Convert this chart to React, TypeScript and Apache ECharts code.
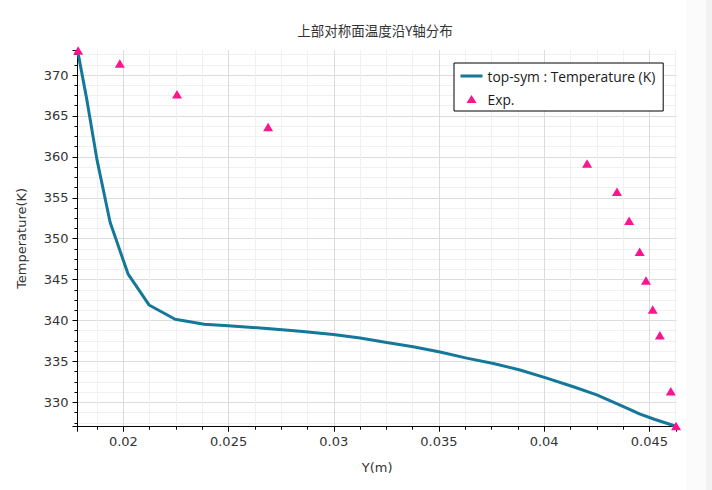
import React, { useEffect, useRef } from "react";
import * as echarts from "echarts";

const chartTitle = "上部对称面温度沿Y轴分布";
const xName = "Y(m)";
const yName = "Temperature(K)";
const lineName = "top-sym : Temperature (K)";
const expName = "Exp.";

const xMin = 0.01782;
const xMax = 0.0463;
const xStep = 0.005;
const yMin = 327.02;
const yMax = 373.06;
const yStep = 5;

const lineX = [
  0.01782, 0.01827, 0.01875, 0.01937, 0.02022, 0.02122, 0.02246, 0.02384,
  0.02498, 0.02697, 0.0284, 0.02998, 0.03125, 0.03252, 0.03377, 0.03505,
  0.03632, 0.03759, 0.03885, 0.04001, 0.04139, 0.0425, 0.04393, 0.04456,
  0.04527, 0.0463,
];
const lineT = [
  373.05, 366.9, 359.6, 352.0, 345.7, 341.9, 340.15, 339.55, 339.35, 339.0,
  338.68, 338.3, 337.85, 337.3, 336.8, 336.15, 335.4, 334.75, 333.95, 333.05,
  331.9, 330.9, 329.3, 328.55, 327.9, 327.05,
];

const expX = [
  0.01785, 0.01983, 0.02255, 0.02688, 0.04204, 0.04346, 0.04404, 0.04454,
  0.04484, 0.04516, 0.0455, 0.04602, 0.04627,
];
const expT = [
  373.0, 371.4, 367.65, 363.65, 359.2, 355.75, 352.2, 348.4, 344.9, 341.35,
  338.2, 331.35, 327.1,
];

const lineColor = "#14789a";
const expColor = "#ff1490";
const textColor = "#333333";
const axisFont = "DejaVu Sans";

function stepFormatter(step: number) {
  return (v: number) => {
    const r = v / step;
    return Math.abs(r - Math.round(r)) < 1e-6 ? String(+v.toFixed(4)) : "";
  };
}

function axisCommon(step: number) {
  return {
    type: "value" as const,
    minInterval: step,
    maxInterval: step,
    splitNumber: 5,
    axisLine: { show: true, onZero: false, lineStyle: { color: "#000", width: 1 } },
    axisTick: { show: true, length: 5, lineStyle: { color: "#000", width: 1 } },
    minorTick: { show: true, splitNumber: 4, length: 3, lineStyle: { color: "#000", width: 1 } },
    splitLine: {
      show: true,
      showMinLine: false,
      showMaxLine: false,
      lineStyle: { color: "#dcdcdc", width: 1 },
    },
    minorSplitLine: { show: true, lineStyle: { color: "#f0f0f0", width: 1 } },
    axisLabel: {
      formatter: stepFormatter(step),
      color: textColor,
      fontSize: 13,
      fontFamily: axisFont,
    },
    nameLocation: "middle" as const,
    nameTextStyle: { color: textColor, fontSize: 13, fontFamily: axisFont },
  };
}

export default function App() {
  const ref = useRef<HTMLDivElement>(null);

  useEffect(() => {
    if (!ref.current) return;
    const chart = echarts.init(ref.current, null, { renderer: "svg" });
    const base = axisCommon(xStep);
    const baseY = axisCommon(yStep);
    chart.setOption({
      animation: false,
      backgroundColor: "#ffffff",
      grid: { left: 77.5, right: 35.3, top: 50, bottom: 63.3, containLabel: false },
      graphic: [
        {
          type: "rect",
          shape: { x: 686, y: 0, width: 26, height: 490 },
          style: { fill: "#fbfbfb" },
          silent: true,
          z: -10,
        },
        {
          type: "rect",
          shape: { x: 706, y: 0, width: 6, height: 490 },
          style: { fill: "#f2f2f2" },
          silent: true,
          z: -10,
        },
        {
          type: "text",
          x: 375,
          y: 30,
          style: {
            text: chartTitle,
            fill: textColor,
            font: '13.5px "Noto Sans CJK SC"',
            textAlign: "center",
            textVerticalAlign: "middle",
          },
        },
      ],
      legend: {
        orient: "vertical",
        left: 454,
        top: 63,
        padding: [6, 8, 5, 5],
        borderColor: "#000",
        borderWidth: 1,
        borderRadius: 0,
        backgroundColor: "#ffffff",
        itemWidth: 22,
        itemHeight: 8,
        itemGap: 9,
        textStyle: { color: "#1a1a1a", fontSize: 13.8, fontFamily: "Open Sans" },
        data: [
          { name: lineName, itemStyle: { opacity: 0 }, lineStyle: { width: 3 } },
          {
            name: expName,
            icon: "path://M5,0 L10,8 L0,8 Z",
            symbolKeepAspect: true,
            itemStyle: { opacity: 1 },
          },
        ],
      },
      xAxis: {
        ...base,
        min: xMin,
        max: xMax,
        name: xName,
        nameGap: 34,
        axisLabel: { ...base.axisLabel, margin: 8 },
      },
      yAxis: {
        ...baseY,
        min: yMin,
        max: yMax,
        name: yName,
        nameGap: 50,
        axisLabel: { ...baseY.axisLabel, margin: 9 },
      },
      series: [
        {
          name: lineName,
          type: "line",
          data: lineX.map((x, i) => [x, lineT[i]]),
          showSymbol: false,
          symbol: "none",
          lineStyle: { color: lineColor, width: 3 },
          itemStyle: { color: lineColor },
          clip: true,
          z: 2,
        },
        {
          name: expName,
          type: "scatter",
          data: expX.map((x, i) => [x, expT[i]]),
          symbol: "triangle",
          symbolSize: [10, 8.5],
          itemStyle: { color: expColor, opacity: 1 },
          clip: false,
          z: 3,
        },
      ],
    });
    return () => chart.dispose();
  }, []);

  return (
    <div
      ref={ref}
      style={{ position: "fixed", left: 0, top: 0, width: 712, height: 490 }}
    />
  );
}
